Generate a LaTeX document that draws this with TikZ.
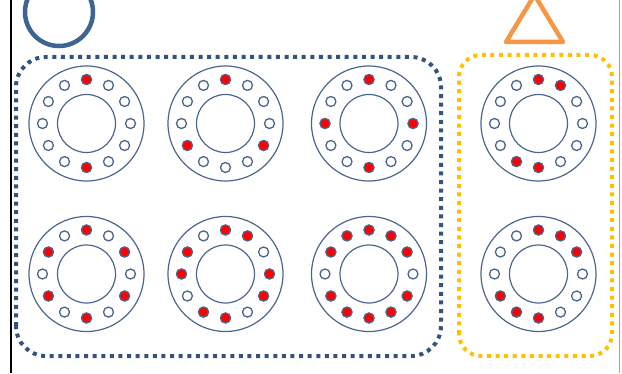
\documentclass[tikz,border=0pt]{standalone}
\usetikzlibrary{calc}
\definecolor{ringblue}{HTML}{4A6590}
\definecolor{boxblue}{HTML}{34527E}
\definecolor{circblue}{HTML}{3C6494}
\definecolor{triorange}{HTML}{F79646}
\definecolor{boxorange}{HTML}{FFC000}
\definecolor{dotred}{HTML}{FF0000}
\tikzset{
  ringline/.style={draw=ringblue,line width=1.2pt},
  holeline/.style={draw=ringblue,line width=1.3pt,fill=white},
  hotline/.style={draw=ringblue,line width=1.1pt,fill=dotred},
  dotbox/.style={line width=4pt,dash pattern=on 4pt off 4.6pt,line cap=butt},
}
\newcommand{\drawring}[3]{%
  \begin{scope}[shift={(#1,#2)}]
    \draw[ringline] (0,0) circle[radius=57.5pt];
    \draw[ringline] (0,0) circle[radius=29pt];
    \foreach \a in {0,30,...,330} \draw[holeline] (\a:44pt) circle[radius=5pt];
    \foreach \a in {#3} \draw[hotline] (\a:44pt) circle[radius=5pt];
  \end{scope}}
\begin{document}
\begin{tikzpicture}[x=1pt,y=1pt]
\useasboundingbox (0,0) rectangle (622,373);
\clip (0,0) rectangle (622,373);
% frame lines
\draw[black,line width=2.5pt] (11,0) -- (11,373);
\draw[gray!70,line width=1pt] (619,0) -- (619,373);
% top symbols
\draw[circblue,line width=4.5pt] (59,361) circle[radius=34];
\draw[triorange,line width=4.5pt,line join=round] (506,331) -- (563,331) -- (534.5,378) -- cycle;
% group boxes
\draw[dotbox,draw=boxblue,rounded corners=30pt] (16,17) rectangle (441,316);
\draw[dotbox,draw=boxorange,rounded corners=22pt] (459,17) rectangle (612,318);
% rings, top row
\drawring{86.5}{249.5}{90,270}
\drawring{225.5}{249.5}{90,210,330}
\drawring{369}{249.5}{0,90,180,270}
\drawring{538.5}{249.5}{60,90,240,270}
% rings, bottom row
\drawring{86.5}{99}{30,90,150,210,270,330}
\drawring{225.5}{99}{0,60,90,150,180,240,270,330}
\drawring{369}{99}{30,60,90,120,150,210,240,270,300,330}
\drawring{538.5}{99}{30,60,90,210,240,270}
\end{tikzpicture}
\end{document}
